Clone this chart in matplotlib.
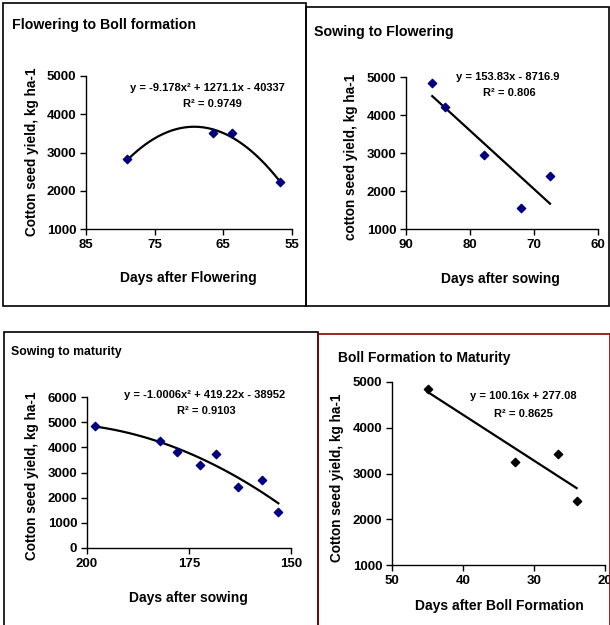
import numpy as np
import matplotlib
matplotlib.use("Agg")
import matplotlib.pyplot as plt
from matplotlib.patches import Rectangle

W, H = 610, 625
plt.rcParams['font.family'] = ['Liberation Sans', 'DejaVu Sans']
plt.rcParams['font.weight'] = 'bold'

# Flowering to Boll formation
fb_days = [79, 66.5, 63.7, 56.8]
fb_yield = [2820, 3500, 3500, 2230]
fb_coef = [-9.178, 1271.1, -40337]

# Sowing to Flowering
sf_days = [85.9, 83.9, 77.8, 72.0, 67.5]
sf_yield = [4850, 4210, 2950, 1560, 2400]
sf_coef = [153.83, -8716.9]

# Sowing to maturity
sm_days = [198, 182, 178, 172.3, 168.4, 163.1, 157.2, 153.1]
sm_yield = [4850, 4270, 3800, 3290, 3750, 2420, 2690, 1450]
sm_coef = [-1.0006, 419.22, -38952]

# Boll formation to maturity
bm_days = [45, 32.7, 26.6, 24]
bm_yield = [4850, 3245, 3425, 2390]
bm_coef = [100.16, 277.08]


def px_rect(x0, yt, x1, yb):
    return [x0 / W, 1 - yb / H, (x1 - x0) / W, (yb - yt) / H]


def ftext(fig, x, y, s, **kw):
    fig.text(x / W, 1 - y / H, s, fontweight='bold', **kw)


def panel(fig, rect, xs, ys, coef, xlim, ylim, yticks, xticks, color):
    ax = fig.add_axes(px_rect(*rect))
    ax.scatter(xs, ys, marker='D', s=18, color=color, zorder=3)
    xf = np.linspace(min(xs), max(xs), 100)
    ax.plot(xf, np.polyval(coef, xf), color='black', lw=1.6)
    ax.set_xlim(*xlim)
    ax.set_ylim(*ylim)
    ax.set_xticks(xticks)
    ax.set_yticks(yticks)
    for s in ['top', 'right']:
        ax.spines[s].set_visible(False)
    for s in ['left', 'bottom']:
        ax.spines[s].set_linewidth(1.0)
    ax.tick_params(direction='out', length=4, width=1, labelsize=9.5, pad=3)
    for lab in ax.get_xticklabels() + ax.get_yticklabels():
        lab.set_fontweight('bold')
    ax.patch.set_alpha(0)
    return ax


fig = plt.figure(figsize=(W / 100, H / 100), dpi=100)

# panel frames
fig.patches.append(Rectangle((3 / W, 1 - 306 / H), 303 / W, 303 / H, transform=fig.transFigure,
                             fill=False, edgecolor='black', lw=1.2))
fig.patches.append(Rectangle((306 / W, 1 - 306 / H), 303 / W, 299 / H, transform=fig.transFigure,
                             fill=False, edgecolor='black', lw=1.2))
fig.patches.append(Rectangle((4 / W, 1 - 626 / H), 314 / W, 294 / H, transform=fig.transFigure,
                             fill=False, edgecolor='black', lw=1.2))
fig.patches.append(Rectangle((318 / W, 1 - 626 / H), 292 / W, 292 / H, transform=fig.transFigure,
                             fill=False, edgecolor='#8b0000', lw=1.2))

# Panel 1
panel(fig, (86, 76, 292, 229), fb_days, fb_yield, fb_coef, (85, 55), (1000, 5000),
      [1000, 2000, 3000, 4000, 5000], [85, 75, 65, 55], '#000080')
ftext(fig, 12, 25, 'Flowering to Boll formation', fontsize=10.2, va='center')
ftext(fig, 207, 88, 'y = -9.178x² + 1271.1x - 40337', fontsize=8, ha='center', va='center')
ftext(fig, 212, 104, 'R² = 0.9749', fontsize=8, ha='center', va='center')
ftext(fig, 188, 278, 'Days after Flowering', fontsize=10, ha='center', va='center')
ftext(fig, 32, 152, 'Cotton seed yield, kg ha-1', fontsize=9.8, ha='center', va='center', rotation=90)

# Panel 2
panel(fig, (406, 77, 598, 229), sf_days, sf_yield, sf_coef, (90, 60), (1000, 5000),
      [1000, 2000, 3000, 4000, 5000], [90, 80, 70, 60], '#000080')
ftext(fig, 314, 32, 'Sowing to Flowering', fontsize=10.3, va='center')
ftext(fig, 508, 77, 'y = 153.83x - 8716.9', fontsize=8, ha='center', va='center')
ftext(fig, 509, 93, 'R² = 0.806', fontsize=8, ha='center', va='center')
ftext(fig, 500, 279, 'Days after sowing', fontsize=10, ha='center', va='center')
ftext(fig, 351, 157, 'cotton seed yield, kg ha-1', fontsize=9.8, ha='center', va='center', rotation=90)

# Panel 3
panel(fig, (87, 397, 291, 548), sm_days, sm_yield, sm_coef, (200, 150), (0, 6000),
      [0, 1000, 2000, 3000, 4000, 5000, 6000], [200, 175, 150], '#000080')
ftext(fig, 11, 352, 'Sowing to maturity', fontsize=8.8, va='center')
ftext(fig, 205, 395, 'y = -1.0006x² + 419.22x - 38952', fontsize=8, ha='center', va='center')
ftext(fig, 206, 411, 'R² = 0.9103', fontsize=8, ha='center', va='center')
ftext(fig, 188, 598, 'Days after sowing', fontsize=10, ha='center', va='center')
ftext(fig, 32, 476, 'Cotton seed yield, kg ha-1', fontsize=9.8, ha='center', va='center', rotation=90)

# Panel 4
panel(fig, (392, 382, 605, 565), bm_days, bm_yield, bm_coef, (50, 20), (1000, 5000),
      [1000, 2000, 3000, 4000, 5000], [50, 40, 30, 20], 'black')
ftext(fig, 338, 358, 'Boll Formation to Maturity', fontsize=10, va='center')
ftext(fig, 523, 396, 'y = 100.16x + 277.08', fontsize=8, ha='center', va='center')
ftext(fig, 523, 414, 'R² = 0.8625', fontsize=8, ha='center', va='center')
ftext(fig, 499, 606, 'Days after Boll Formation', fontsize=10, ha='center', va='center')
ftext(fig, 337, 478, 'Cotton seed yield, kg ha-1', fontsize=9.8, ha='center', va='center', rotation=90)

fig.savefig('out.png', dpi=100)
